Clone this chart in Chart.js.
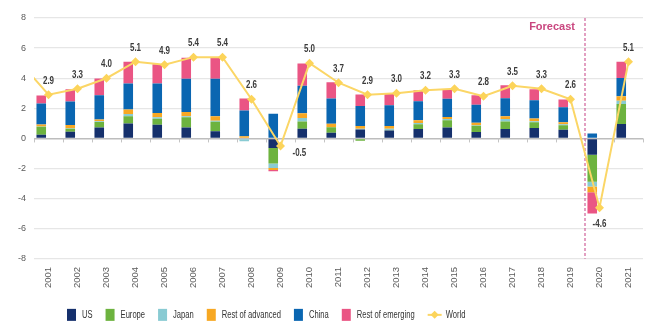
<!DOCTYPE html>
<html>
<head>
<meta charset="utf-8">
<script src="https://cdn.jsdelivr.net/npm/chart.js@4.4.1/dist/chart.umd.min.js"></script>
<style>
  html, body { margin: 0; padding: 0; background: #ffffff; }
  #wrap { width: 656px; height: 329px; }
</style>
</head>
<body>
<div id="wrap"><canvas id="growth"></canvas></div>
<script>
// Contributions to world GDP growth, percentage points
const years = ['2001','2002','2003','2004','2005','2006','2007','2008','2009','2010','2011',
               '2012','2013','2014','2015','2016','2017','2018','2019','2020','2021'];
const us        = [0.24, 0.45, 0.73, 1.00, 0.91, 0.73, 0.47, 0.00, -0.64, 0.64, 0.38, 0.60, 0.53, 0.62, 0.73, 0.42, 0.62, 0.69, 0.58, -1.09, 0.96];
const europe    = [0.53, 0.20, 0.36, 0.47, 0.40, 0.67, 0.64, 0.05, -1.02, 0.49, 0.36, -0.15, 0.02, 0.33, 0.47, 0.42, 0.51, 0.38, 0.29, -1.78, 1.33];
const japan     = [0.03, 0.03, 0.05, 0.16, 0.09, 0.07, 0.07, -0.18, -0.31, 0.22, 0.00, 0.05, 0.09, 0.07, 0.09, 0.03, 0.16, 0.07, 0.07, -0.33, 0.22];
const restAdv   = [0.12, 0.22, 0.11, 0.29, 0.29, 0.29, 0.29, 0.10, -0.13, 0.33, 0.24, 0.18, 0.18, 0.18, 0.13, 0.18, 0.18, 0.18, 0.13, -0.38, 0.29];
const china     = [1.40, 1.56, 1.62, 1.73, 1.96, 2.20, 2.49, 1.71, 1.64, 1.82, 1.67, 1.33, 1.38, 1.27, 1.22, 1.18, 1.20, 1.22, 1.00, 0.33, 1.22];
const restEm    = [0.53, 0.80, 1.11, 1.44, 1.27, 1.40, 1.44, 0.80, -0.08, 1.47, 1.09, 0.76, 0.78, 0.73, 0.60, 0.64, 0.87, 0.73, 0.51, -1.40, 1.07];
// World growth, %; the 2000 value only feeds the line entering from the left edge
const world     = [2.9, 3.3, 4.0, 5.1, 4.9, 5.4, 5.4, 2.6, -0.5, 5.0, 3.7, 2.9, 3.0, 3.2, 3.3, 2.8, 3.5, 3.3, 2.6, -4.6, 5.1];
const worldPrevYear = '2000';
const worldPrev = 5.1;
const yTicks = [-8, -6, -4, -2, 0, 2, 4, 6, 8];
const forecastFrom = '2020';

const COLORS = {
  us: '#15306c', europe: '#6db33f', japan: '#89cbd3', restAdv: '#f7a823',
  china: '#0a66b1', restEm: '#ea5584', world: '#fbd666'
};
const REGULAR = "'Liberation Sans', Arial, sans-serif";
const SQUEEZE = 0.76;   // horizontal squeeze giving a condensed face for labels

function barSet(label, data, color) {
  return {
    type: 'bar', label, data, backgroundColor: color, borderWidth: 0,
    xAxisID: 'x', yAxisID: 'y', stack: 'regions',
    categoryPercentage: 1.0, barPercentage: 0.66
  };
}

const lineYears = [worldPrevYear, ...years].map(Number);
const lineValues = [worldPrev, ...world];

function condensedText(ctx, txt, x, y, align) {
  const w = ctx.measureText(txt).width * SQUEEZE;
  const left = align === 'center' ? x - w / 2 : align === 'right' ? x - w : x;
  ctx.save();
  ctx.translate(left, y);
  ctx.scale(SQUEEZE, 1);
  ctx.textAlign = 'left';
  ctx.fillText(txt, 0, 0);
  ctx.restore();
  return w;
}

function diamond(ctx, cx, cy, r) {
  ctx.beginPath();
  ctx.moveTo(cx, cy - r); ctx.lineTo(cx + r, cy); ctx.lineTo(cx, cy + r); ctx.lineTo(cx - r, cy);
  ctx.closePath(); ctx.fill();
}

// Zero line tick marks at category boundaries
const zeroTicks = {
  id: 'zeroTicks',
  beforeDatasetsDraw(chart) {
    const { ctx, scales: { x, y } } = chart;
    const y0 = y.getPixelForValue(0);
    const half = (x.getPixelForValue(1) - x.getPixelForValue(0)) / 2;
    ctx.save();
    ctx.strokeStyle = '#c4c4c4';
    ctx.lineWidth = 1;
    for (let i = 0; i <= years.length; i++) {
      const px = Math.round(x.getPixelForValue(i) - half) + 0.5;
      ctx.beginPath(); ctx.moveTo(px, y0); ctx.lineTo(px, y0 + 4); ctx.stroke();
    }
    ctx.restore();
  }
};

// Dashed divider and caption for the projection years
const forecast = {
  id: 'forecast',
  beforeDatasetsDraw(chart) {
    const { ctx, chartArea, scales: { x } } = chart;
    const idx = years.indexOf(forecastFrom);
    const px = (x.getPixelForValue(idx - 1) + x.getPixelForValue(idx)) / 2;
    ctx.save();
    ctx.strokeStyle = '#d36da1';
    ctx.lineWidth = 1.3;
    ctx.setLineDash([3, 2]);
    ctx.beginPath(); ctx.moveTo(px, chartArea.top); ctx.lineTo(px, chartArea.bottom); ctx.stroke();
    ctx.setLineDash([]);
    ctx.fillStyle = '#c9467f';
    ctx.font = "bold 11px " + REGULAR;
    ctx.textAlign = 'right';
    ctx.textBaseline = 'middle';
    ctx.fillText('Forecast', px - 10, chartArea.top + 9);
    ctx.restore();
  }
};

// Value labels on the World line
const labelPlace = { '2009': 'right', '2020': 'below' };
const worldLabels = {
  id: 'worldLabels',
  afterDatasetsDraw(chart) {
    const { ctx } = chart;
    const di = chart.data.datasets.findIndex(d => d.type === 'line');
    const meta = chart.getDatasetMeta(di);
    ctx.save();
    ctx.font = "bold 10.5px " + REGULAR;
    ctx.fillStyle = '#3b3b3b';
    ctx.textBaseline = 'middle';
    meta.data.forEach((pt, i) => {
      if (i === 0) return;
      const yr = String(lineYears[i]);
      const txt = lineValues[i].toFixed(1);
      const place = labelPlace[yr] || 'top';
      if (place === 'right') condensedText(ctx, txt, pt.x + 12, pt.y + 7, 'left');
      else if (place === 'below') condensedText(ctx, txt, pt.x, pt.y + 16, 'center');
      else condensedText(ctx, txt, pt.x, pt.y - 14, 'center');
    });
    ctx.restore();
  }
};

// Legend row: swatches for the regions, line with diamond for World
const legendRow = {
  id: 'legendRow',
  afterDraw(chart) {
    const { ctx, chartArea } = chart;
    const yc = chartArea.bottom + 56;
    let x = chartArea.left + 33;
    ctx.save();
    ctx.font = "10px " + REGULAR;
    ctx.textBaseline = 'middle';
    chart.data.datasets.forEach(ds => {
      if (ds.type === 'bar') {
        ctx.fillStyle = ds.backgroundColor;
        ctx.fillRect(x, yc - 6, 9, 12);
        x += 9 + 6;
      } else {
        ctx.strokeStyle = ds.borderColor;
        ctx.lineWidth = 2;
        ctx.beginPath(); ctx.moveTo(x, yc); ctx.lineTo(x + 14, yc); ctx.stroke();
        ctx.fillStyle = ds.pointBackgroundColor;
        diamond(ctx, x + 7, yc, 4);
        x += 14 + 4;
      }
      ctx.fillStyle = '#333333';
      x += condensedText(ctx, ds.label, x, yc + 0.5, 'left') + 13;
    });
    ctx.restore();
  }
};

new Chart(document.getElementById('growth'), {
  data: {
    labels: years,
    datasets: [
      barSet('US', us, COLORS.us),
      barSet('Europe', europe, COLORS.europe),
      barSet('Japan', japan, COLORS.japan),
      barSet('Rest of advanced', restAdv, COLORS.restAdv),
      barSet('China', china, COLORS.china),
      barSet('Rest of emerging', restEm, COLORS.restEm),
      {
        type: 'line', label: 'World',
        data: lineYears.map((yr, i) => ({ x: yr, y: lineValues[i] })),
        xAxisID: 'xLine', yAxisID: 'y', order: -1,
        borderColor: COLORS.world, borderWidth: 2, backgroundColor: COLORS.world,
        pointStyle: 'rectRot', pointRadius: 4.5, pointBorderWidth: 0,
        pointBackgroundColor: '#fcd45a', tension: 0
      }
    ]
  },
  options: {
    responsive: true,
    maintainAspectRatio: false,
    animation: false,
    events: [],
    layout: { padding: { top: 18, right: 13, bottom: 33, left: 10 } },
    scales: {
      x: {
        type: 'category', position: 'bottom', stacked: true, offset: true,
        grid: { display: false, drawTicks: false },
        border: { display: false },
        ticks: {
          maxRotation: 90, minRotation: 90, autoSkip: false, padding: 8,
          color: '#5a5a5a', font: { family: REGULAR, size: 9.5 }
        }
      },
      xLine: {
        type: 'linear', display: false,
        min: Number(years[0]) - 0.5, max: Number(years[years.length - 1]) + 0.5
      },
      y: {
        stacked: true, min: yTicks[0], max: yTicks[yTicks.length - 1],
        afterBuildTicks(scale) { scale.ticks = yTicks.map(v => ({ value: v })); },
        grid: {
          drawTicks: false,
          color: c => (c.tick && c.tick.value === 0) ? '#bdbdbd' : '#e6e6e6',
          lineWidth: c => (c.tick && c.tick.value === 0) ? 1.6 : 1.3
        },
        border: { display: false },
        ticks: { padding: 8, color: '#5a5a5a', font: { family: REGULAR, size: 9 } }
      }
    },
    plugins: {
      tooltip: { enabled: false },
      legend: { display: false }
    }
  },
  plugins: [zeroTicks, forecast, worldLabels, legendRow]
});
</script>
</body>
</html>
